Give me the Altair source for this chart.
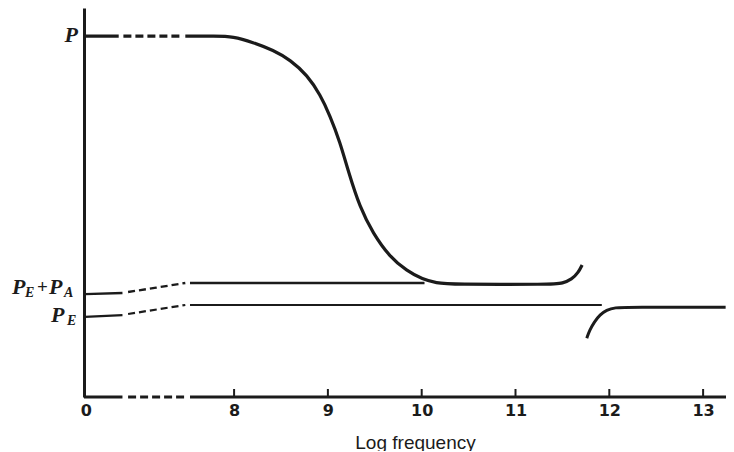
import altair as alt
import pandas as pd

# ---------------- data ----------------
# x = log frequency; the "0" end of the broken axis is drawn at 6.4
x_ticks = [6.42, 8, 9, 10, 11, 12, 13]
tick_labels = ["0", "8", "9", "10", "11", "12", "13"]
x_start = 6.4
x_end = 13.244

# total polarization P (low-frequency plateau, dispersion near 9.2, rise near 11.7)
p_low_x = [6.41, 6.77]
p_low_y = [10.0, 10.0]
p_gap_x = [6.82, 7.46]
p_gap_y = [10.0, 10.0]
p_x = [7.48, 7.80, 7.99, 8.20, 8.42, 8.60, 8.78, 8.92, 9.02, 9.13, 9.22, 9.34, 9.48,
       9.66, 9.84, 10.01, 10.16, 10.30, 11.40, 11.50, 11.60, 11.67, 11.71]
p_y = [10.0, 10.0, 9.99, 9.83, 9.61, 9.34, 8.92, 8.37, 7.81, 7.06, 6.23, 5.26, 4.54,
       3.88, 3.50, 3.26, 3.16, 3.12, 3.12, 3.15, 3.26, 3.45, 3.66]

# P_E + P_A level
pa_low_x = [6.41, 6.81]
pa_low_y = [2.85, 2.88]
pa_gap_x = [6.87, 7.17, 7.48]
pa_gap_y = [2.91, 3.03, 3.16]
pa_x = [7.53, 10.03]
pa_y = [3.16, 3.16]

# P_E level
pe_low_x = [6.41, 6.81]
pe_low_y = [2.22, 2.27]
pe_gap_x = [6.87, 7.48]
pe_gap_y = [2.30, 2.55]
pe_x = [7.53, 11.92]
pe_y = [2.55, 2.55]
pe_hi_x = [11.76, 11.79, 11.84, 11.90, 11.97, 12.06, 12.20, 13.24]
pe_hi_y = [1.63, 1.85, 2.08, 2.28, 2.41, 2.48, 2.49, 2.49]

# broken x axis: solid / dashed / solid
axis_x1 = [x_start, 6.87, 7.53]
axis_x2 = [6.81, 7.48, x_end]
axis_dashed = [False, True, False]

INK = "#1b1b1b"
H = 389
W = 642

label_expr = f"{tick_labels}[indexof({x_ticks}, datum.value)]"

X = alt.X(
    "x:Q",
    scale=alt.Scale(domain=[x_start, x_end], nice=False, zero=False),
    axis=alt.Axis(
        values=x_ticks,
        labelExpr=label_expr,
        domain=False,
        ticks=False,
        tickSize=0,
        grid=False,
        labelFont="DejaVu Sans",
        labelFontWeight="bold",
        labelFontSize=16,
        labelColor=INK,
        labelBaseline="alphabetic",
        labelPadding=18,
        labelFlush=False,
        labelOverlap=False,
        labelBound=False,
        title="Log frequency",
        titleFont="Liberation Sans",
        titleFontSize=19,
        titleFontWeight="normal",
        titleColor=INK,
        titleX=331,
        titleY=51,
        titleAlign="center",
        titleBaseline="alphabetic",
    ),
)
Y = alt.Y(
    "y:Q",
    scale=alt.Scale(domain=[0, 10.78], nice=False, zero=False),
    axis=alt.Axis(title=None, labels=False, ticks=False, grid=False,
                  domainColor=INK, domainWidth=3),
)


def seg(xs, ys, width, dash=None, interp="linear"):
    df = pd.DataFrame({"x": xs, "y": ys})
    kw = dict(color=INK, strokeWidth=width, interpolate=interp, strokeCap="butt")
    if dash:
        kw["strokeDash"] = dash
    return alt.Chart(df).mark_line(**kw).encode(x=X, y=Y)


axis_df = pd.DataFrame({"x": axis_x1, "x2": axis_x2, "dashed": axis_dashed})
axis_solid = alt.Chart(axis_df).transform_filter("!datum.dashed").mark_rule(
    color=INK, strokeWidth=3).encode(x=X, x2="x2:Q", y=alt.datum(0))
axis_dash = alt.Chart(axis_df).transform_filter("datum.dashed").mark_rule(
    color=INK, strokeWidth=3, strokeDash=[8, 4]).encode(x=X, x2="x2:Q", y=alt.datum(0))

ticks = alt.Chart(pd.DataFrame({"x": x_ticks[1:]})).mark_rule(
    color=INK, strokeWidth=2).encode(x=X, y=alt.value(H), y2=alt.value(H - 8))


def lab(text, level, x, dy, size, italic=True, align="left"):
    df = pd.DataFrame({"t": [text], "y": [level]})
    return alt.Chart(df).mark_text(
        align=align, baseline="alphabetic", font="Liberation Serif",
        fontStyle="italic" if italic else "normal", fontWeight="bold",
        fontSize=size, color=INK, dy=dy,
    ).encode(x=alt.value(x), y=Y, text="t:N")


labels = [
    lab("P", p_low_y[0], -6, 6, 22, align="right"),
    lab("P", pa_low_y[0], -72, 0, 22),
    lab("E", pa_low_y[0], -59, 3, 14),
    lab("+", pa_low_y[0], -47, -1, 19, italic=False),
    lab("P", pa_low_y[0], -35, 0, 22),
    lab("A", pa_low_y[0], -20, 3, 14),
    lab("P", pe_low_y[0], -33, 5, 22),
    lab("E", pe_low_y[0], -17, 8, 14),
]

layers = [
    axis_solid, axis_dash, ticks,
    seg(p_low_x, p_low_y, 3.2),
    seg(p_gap_x, p_gap_y, 3.2, dash=[8, 4]),
    seg(p_x, p_y, 3.2, interp="basis"),
    seg(pa_low_x, pa_low_y, 2.4),
    seg(pa_gap_x, pa_gap_y, 2.4, dash=[7, 4]),
    seg(pa_x, pa_y, 2.4),
    seg(pe_low_x, pe_low_y, 2.2),
    seg(pe_gap_x, pe_gap_y, 2.2, dash=[7, 4]),
    seg(pe_x, pe_y, 2.0),
    seg(pe_hi_x, pe_hi_y, 3.0, interp="basis"),
] + labels

chart = alt.layer(*layers).properties(
    width=W,
    height=H,
    autosize=alt.AutoSizeParams(type="none"),
    padding={"left": 76, "top": 0, "right": 0, "bottom": 54},
    background="white",
).configure_view(stroke=None)

chart.save("out.html", embed_options={"renderer": "svg", "actions": False})
